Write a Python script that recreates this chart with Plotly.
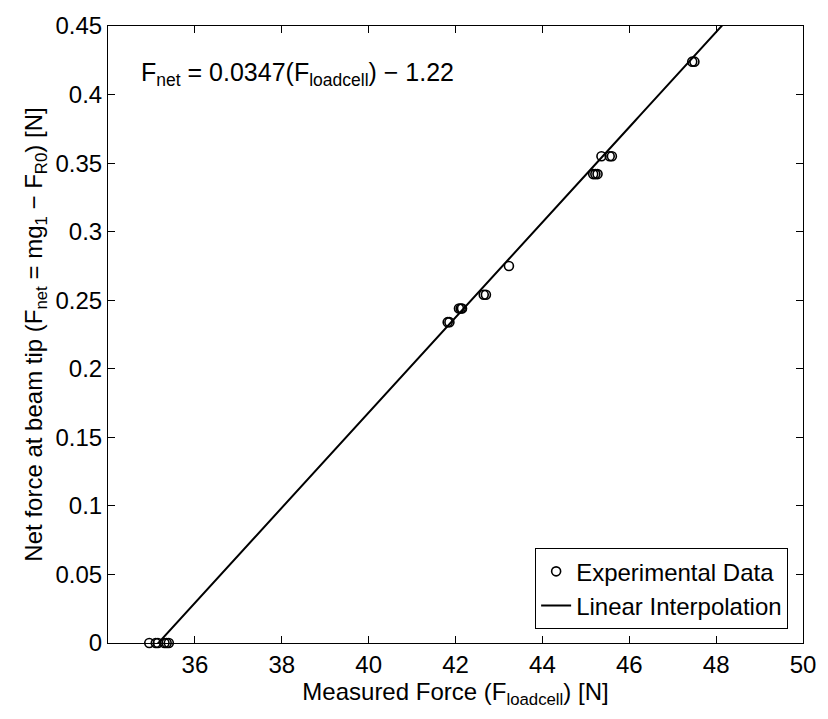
import numpy as np
import plotly.graph_objects as go

# Measured load-cell force [N] and the corresponding net tip force [N]
force_loadcell = [34.95, 35.10, 35.15, 35.30, 35.35, 35.40,
                  41.82, 41.86,
                  42.08, 42.12, 42.15,
                  42.65, 42.70,
                  43.23,
                  45.17, 45.22, 45.27,
                  45.36,
                  45.55, 45.60,
                  47.45, 47.50]
net_force = [0, 0, 0, 0, 0, 0,
             0.234, 0.234,
             0.244, 0.244, 0.244,
             0.254, 0.254,
             0.275,
             0.342, 0.342, 0.342,
             0.355,
             0.355, 0.355,
             0.424, 0.424]

# Linear fit  F_net = slope * F_loadcell + intercept
slope = 0.0347
intercept = -1.22

x_range = [34, 50]
y_range = [0, 0.45]
x_ticks = [36, 38, 40, 42, 44, 46, 48, 50]
y_ticks = [0, 0.05, 0.1, 0.15, 0.2, 0.25, 0.3, 0.35, 0.4, 0.45]
y_tick_text = ["0", "0.05", "0.1", "0.15", "0.2", "0.25", "0.3", "0.35", "0.4", "0.45"]

fit_x = np.linspace(x_range[0], x_range[1], 200)
fit_y = slope * fit_x + intercept

FONT = "Liberation Sans, Arial, Helvetica, sans-serif"
FS = 24

fig = go.Figure()
fig.add_trace(go.Scatter(
    x=force_loadcell, y=net_force, mode="markers",
    name="Experimental Data",
    marker=dict(symbol="circle-open", size=9, color="black", line=dict(width=1.6)),
    cliponaxis=False,
))
fig.add_trace(go.Scatter(
    x=fit_x, y=fit_y, mode="lines",
    name="Linear Interpolation",
    line=dict(color="black", width=2),
))

axis_common = dict(
    showline=True, linecolor="black", linewidth=1,
    mirror="ticks", ticks="inside", ticklen=7, tickwidth=1, tickcolor="black",
    showgrid=False, zeroline=False,
    tickfont=dict(family=FONT, size=FS, color="black"),
)

fig.update_layout(
    width=828, height=719, autosize=False,
    margin=dict(l=108, r=18, t=15, b=76),
    paper_bgcolor="white", plot_bgcolor="white",
    font=dict(family=FONT, size=FS, color="black"),
    xaxis=dict(
        range=x_range, tickvals=x_ticks, **axis_common,
        title=dict(text="Measured Force (F<sub>loadcell</sub>) [N]",
                   font=dict(family=FONT, size=FS), standoff=4),
    ),
    yaxis=dict(
        range=y_range, tickvals=y_ticks, ticktext=y_tick_text, **axis_common,
        title=dict(text="Net force at beam tip (F<sub>net</sub> = mg<sub>1</sub> \u2212 F<sub>R0</sub>) [N]",
                   font=dict(family=FONT, size=FS), standoff=6),
    ),
    legend=dict(
        x=0.9786, y=0.0223, xanchor="right", yanchor="bottom",
        bgcolor="white", bordercolor="black", borderwidth=1,
        font=dict(family=FONT, size=FS, color="black"),
        tracegroupgap=0,
    ),
    annotations=[dict(
        xref="paper", yref="paper", x=0.045, y=0.922,
        xanchor="left", yanchor="middle", showarrow=False,
        text="F<sub>net</sub> = 0.0347(F<sub>loadcell</sub>) \u2212 1.22",
        font=dict(family=FONT, size=25, color="black"),
    )],
)

fig.write_html("out.html")
